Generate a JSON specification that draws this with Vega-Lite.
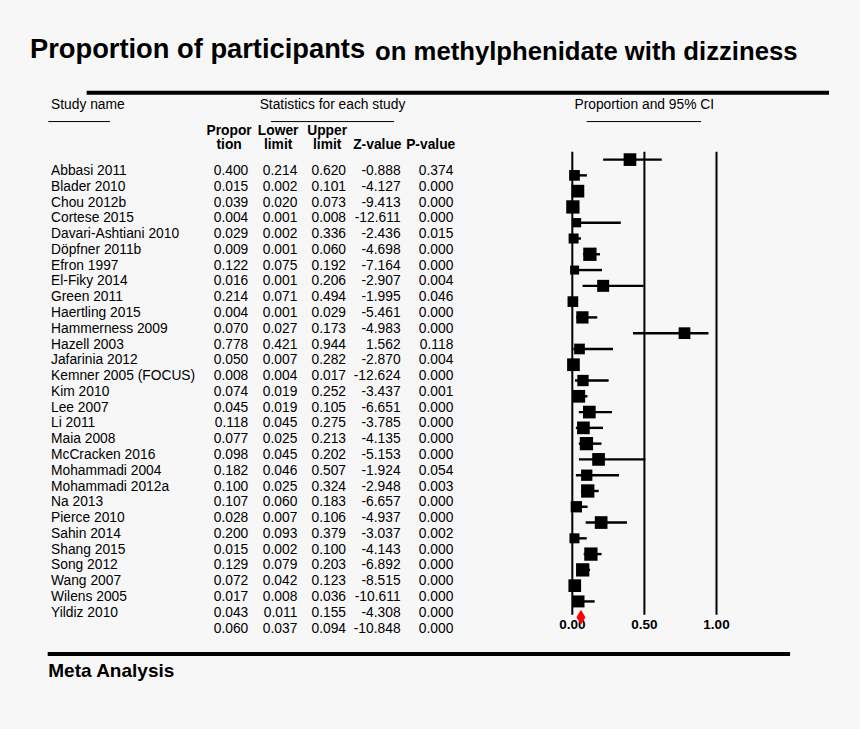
{
  "$schema": "https://vega.github.io/schema/vega-lite/v6.json",
  "width": 860,
  "height": 729,
  "autosize": {"type": "fit", "contains": "padding"},
  "padding": 0,
  "background": "#f7f7f7",
  "config": {
    "view": {"stroke": null},
    "text": {"font": "Liberation Sans", "color": "#000000"},
    "rule": {"color": "#000000"},
    "locale": {"number": {"decimal": ".", "thousands": ",", "grouping": [3], "currency": ["$", ""], "minus": "-"}}
  },
  "datasets": {
    "studies": [
      {"row": 0, "kind": "study", "study": "Abbasi 2011", "prop": 0.400, "lower": 0.214, "upper": 0.620, "z": -0.888, "p": 0.374, "weight": 3.85},
      {"row": 1, "kind": "study", "study": "Blader 2010", "prop": 0.015, "lower": 0.002, "upper": 0.101, "z": -4.127, "p": 0.000, "weight": 2.73},
      {"row": 2, "kind": "study", "study": "Chou 2012b", "prop": 0.039, "lower": 0.020, "upper": 0.073, "z": -9.413, "p": 0.000, "weight": 3.85},
      {"row": 3, "kind": "study", "study": "Cortese 2015", "prop": 0.004, "lower": 0.001, "upper": 0.008, "z": -12.611, "p": 0.000, "weight": 4.23},
      {"row": 4, "kind": "study", "study": "Davari-Ashtiani 2010", "prop": 0.029, "lower": 0.002, "upper": 0.336, "z": -2.436, "p": 0.015, "weight": 2.06},
      {"row": 5, "kind": "study", "study": "Döpfner 2011b", "prop": 0.009, "lower": 0.001, "upper": 0.060, "z": -4.698, "p": 0.000, "weight": 2.39},
      {"row": 6, "kind": "study", "study": "Efron 1997", "prop": 0.122, "lower": 0.075, "upper": 0.192, "z": -7.164, "p": 0.000, "weight": 4.23},
      {"row": 7, "kind": "study", "study": "El-Fiky 2014", "prop": 0.016, "lower": 0.001, "upper": 0.206, "z": -2.907, "p": 0.004, "weight": 1.94},
      {"row": 8, "kind": "study", "study": "Green 2011", "prop": 0.214, "lower": 0.071, "upper": 0.494, "z": -1.995, "p": 0.046, "weight": 3.44},
      {"row": 9, "kind": "study", "study": "Haertling 2015", "prop": 0.004, "lower": 0.001, "upper": 0.029, "z": -5.461, "p": 0.000, "weight": 2.73},
      {"row": 10, "kind": "study", "study": "Hammerness 2009", "prop": 0.070, "lower": 0.027, "upper": 0.173, "z": -4.983, "p": 0.000, "weight": 3.61},
      {"row": 11, "kind": "study", "study": "Hazell 2003", "prop": 0.778, "lower": 0.421, "upper": 0.944, "z": 1.562, "p": 0.118, "weight": 3.28},
      {"row": 12, "kind": "study", "study": "Jafarinia 2012", "prop": 0.050, "lower": 0.007, "upper": 0.282, "z": -2.870, "p": 0.004, "weight": 2.73},
      {"row": 13, "kind": "study", "study": "Kemner 2005 (FOCUS)", "prop": 0.008, "lower": 0.004, "upper": 0.017, "z": -12.624, "p": 0.000, "weight": 3.85},
      {"row": 14, "kind": "study", "study": "Kim 2010", "prop": 0.074, "lower": 0.019, "upper": 0.252, "z": -3.437, "p": 0.001, "weight": 3.06},
      {"row": 15, "kind": "study", "study": "Lee 2007", "prop": 0.045, "lower": 0.019, "upper": 0.105, "z": -6.651, "p": 0.000, "weight": 3.85},
      {"row": 16, "kind": "study", "study": "Li 2011", "prop": 0.118, "lower": 0.045, "upper": 0.275, "z": -3.785, "p": 0.000, "weight": 3.85},
      {"row": 17, "kind": "study", "study": "Maia 2008", "prop": 0.077, "lower": 0.025, "upper": 0.213, "z": -4.135, "p": 0.000, "weight": 3.85},
      {"row": 18, "kind": "study", "study": "McCracken 2016", "prop": 0.098, "lower": 0.045, "upper": 0.202, "z": -5.153, "p": 0.000, "weight": 4.23},
      {"row": 19, "kind": "study", "study": "Mohammadi 2004", "prop": 0.182, "lower": 0.046, "upper": 0.507, "z": -1.924, "p": 0.054, "weight": 3.85},
      {"row": 20, "kind": "study", "study": "Mohammadi 2012a", "prop": 0.100, "lower": 0.025, "upper": 0.324, "z": -2.948, "p": 0.003, "weight": 3.06},
      {"row": 21, "kind": "study", "study": "Na 2013", "prop": 0.107, "lower": 0.060, "upper": 0.183, "z": -6.657, "p": 0.000, "weight": 4.23},
      {"row": 22, "kind": "study", "study": "Pierce 2010", "prop": 0.028, "lower": 0.007, "upper": 0.106, "z": -4.937, "p": 0.000, "weight": 3.06},
      {"row": 23, "kind": "study", "study": "Sahin 2014", "prop": 0.200, "lower": 0.093, "upper": 0.379, "z": -3.037, "p": 0.002, "weight": 3.85},
      {"row": 24, "kind": "study", "study": "Shang 2015", "prop": 0.015, "lower": 0.002, "upper": 0.100, "z": -4.143, "p": 0.000, "weight": 2.39},
      {"row": 25, "kind": "study", "study": "Song 2012", "prop": 0.129, "lower": 0.079, "upper": 0.203, "z": -6.892, "p": 0.000, "weight": 4.23},
      {"row": 26, "kind": "study", "study": "Wang 2007", "prop": 0.072, "lower": 0.042, "upper": 0.123, "z": -8.515, "p": 0.000, "weight": 4.23},
      {"row": 27, "kind": "study", "study": "Wilens 2005", "prop": 0.017, "lower": 0.008, "upper": 0.036, "z": -10.611, "p": 0.000, "weight": 3.85},
      {"row": 28, "kind": "study", "study": "Yildiz 2010", "prop": 0.043, "lower": 0.011, "upper": 0.155, "z": -4.308, "p": 0.000, "weight": 3.44},
      {"row": 29, "kind": "summary", "study": "", "prop": 0.060, "lower": 0.037, "upper": 0.094, "z": -10.848, "p": 0.000, "weight": 0}
    ],
    "ticks": [
      {"tick": 0, "label": "0.00"},
      {"tick": 0.5, "label": "0.50"},
      {"tick": 1, "label": "1.00"}
    ]
  },
  "layer": [
    {
      "data": {"values": [{}]},
      "mark": {"type": "text", "text": "Proportion of participants", "align": "left", "baseline": "alphabetic", "fontSize": 27.3, "fontWeight": "bold"},
      "encoding": {
        "x": {"datum": -3.761, "type": "quantitative", "scale": {"domain": [-3.9688, 1.9951], "nice": false, "zero": false}, "axis": null},
        "y": {"datum": -6.42, "type": "quantitative", "scale": {"domain": [-10.114, 36.084], "reverse": true, "nice": false, "zero": false}, "axis": null}
      }
    },
    {
      "data": {"values": [{}]},
      "mark": {"type": "text", "text": "on methylphenidate with dizziness", "align": "left", "baseline": "alphabetic", "fontSize": 25.7, "fontWeight": "bold"},
      "encoding": {
        "x": {"datum": -1.368, "type": "quantitative", "axis": null},
        "y": {"datum": -6.31, "type": "quantitative", "axis": null}
      }
    },
    {
      "data": {"values": [{}]},
      "mark": {"type": "rule", "strokeWidth": 4},
      "encoding": {
        "x": {"datum": -3.368, "type": "quantitative", "axis": null},
        "x2": {"datum": 1.780},
        "y": {"datum": -4.23, "type": "quantitative", "axis": null}
      }
    },
    {
      "data": {"values": [{}]},
      "mark": {"type": "rule", "strokeWidth": 4},
      "encoding": {
        "x": {"datum": -3.638, "type": "quantitative", "axis": null},
        "x2": {"datum": 1.510},
        "y": {"datum": 31.33, "type": "quantitative", "axis": null}
      }
    },
    {
      "data": {"values": [{}]},
      "mark": {"type": "text", "text": "Study name", "align": "left", "baseline": "alphabetic", "fontSize": 13.8},
      "encoding": {
        "x": {"datum": -3.615, "type": "quantitative", "axis": null},
        "y": {"datum": -3.19, "type": "quantitative", "axis": null}
      }
    },
    {
      "data": {"values": [{}]},
      "mark": {"type": "text", "text": "Statistics for each study", "align": "center", "baseline": "alphabetic", "fontSize": 13.8},
      "encoding": {
        "x": {"datum": -1.663, "type": "quantitative", "axis": null},
        "y": {"datum": -3.19, "type": "quantitative", "axis": null}
      }
    },
    {
      "data": {"values": [{}]},
      "mark": {"type": "text", "text": "Proportion and 95% CI", "align": "center", "baseline": "alphabetic", "fontSize": 13.8},
      "encoding": {
        "x": {"datum": 0.499, "type": "quantitative", "axis": null},
        "y": {"datum": -3.19, "type": "quantitative", "axis": null}
      }
    },
    {
      "data": {"values": [{}]},
      "mark": {"type": "rule", "strokeWidth": 1},
      "encoding": {
        "x": {"datum": -3.634, "type": "quantitative", "axis": null},
        "x2": {"datum": -3.206},
        "y": {"datum": -2.41, "type": "quantitative", "axis": null}
      }
    },
    {
      "data": {"values": [{}]},
      "mark": {"type": "rule", "strokeWidth": 1},
      "encoding": {
        "x": {"datum": -2.089, "type": "quantitative", "axis": null},
        "x2": {"datum": -1.236},
        "y": {"datum": -2.41, "type": "quantitative", "axis": null}
      }
    },
    {
      "data": {"values": [{}]},
      "mark": {"type": "rule", "strokeWidth": 1},
      "encoding": {
        "x": {"datum": 0.100, "type": "quantitative", "axis": null},
        "x2": {"datum": 0.893},
        "y": {"datum": -2.41, "type": "quantitative", "axis": null}
      }
    },
    {
      "data": {"values": [{}]},
      "mark": {"type": "text", "text": ["Propor", "tion"], "lineHeight": 13.5, "align": "center", "baseline": "alphabetic", "fontSize": 13.8, "fontWeight": "bold"},
      "encoding": {
        "x": {"datum": -2.38, "type": "quantitative", "axis": null},
        "y": {"datum": -1.54, "type": "quantitative", "axis": null}
      }
    },
    {
      "data": {"values": [{}]},
      "mark": {"type": "text", "text": ["Lower", "limit"], "lineHeight": 13.5, "align": "center", "baseline": "alphabetic", "fontSize": 13.8, "fontWeight": "bold"},
      "encoding": {
        "x": {"datum": -2.04, "type": "quantitative", "axis": null},
        "y": {"datum": -1.54, "type": "quantitative", "axis": null}
      }
    },
    {
      "data": {"values": [{}]},
      "mark": {"type": "text", "text": ["Upper", "  limit"], "lineHeight": 13.5, "align": "center", "baseline": "alphabetic", "fontSize": 13.8, "fontWeight": "bold"},
      "encoding": {
        "x": {"datum": -1.70, "type": "quantitative", "axis": null},
        "y": {"datum": -1.54, "type": "quantitative", "axis": null}
      }
    },
    {
      "data": {"values": [{}]},
      "mark": {"type": "text", "text": "Z-value", "align": "center", "baseline": "alphabetic", "fontSize": 13.8, "fontWeight": "bold"},
      "encoding": {
        "x": {"datum": -1.352, "type": "quantitative", "axis": null},
        "y": {"datum": -0.70, "type": "quantitative", "axis": null}
      }
    },
    {
      "data": {"values": [{}]},
      "mark": {"type": "text", "text": "P-value", "align": "center", "baseline": "alphabetic", "fontSize": 13.8, "fontWeight": "bold"},
      "encoding": {
        "x": {"datum": -0.982, "type": "quantitative", "axis": null},
        "y": {"datum": -0.70, "type": "quantitative", "axis": null}
      }
    },
    {
      "data": {"name": "studies"},
      "mark": {"type": "text", "align": "left", "baseline": "alphabetic", "dy": 15.4, "fontSize": 13.8},
      "encoding": {
        "x": {"datum": -3.615, "type": "quantitative", "axis": null},
        "y": {"field": "row", "type": "quantitative", "axis": null},
        "text": {"field": "study", "type": "nominal"}
      }
    },
    {
      "data": {"name": "studies"},
      "mark": {"type": "text", "align": "right", "baseline": "alphabetic", "dy": 15.4, "fontSize": 13.8},
      "encoding": {
        "x": {"datum": -2.247, "type": "quantitative", "axis": null},
        "y": {"field": "row", "type": "quantitative", "axis": null},
        "text": {"field": "prop", "type": "quantitative", "format": ".3f"}
      }
    },
    {
      "data": {"name": "studies"},
      "mark": {"type": "text", "align": "right", "baseline": "alphabetic", "dy": 15.4, "fontSize": 13.8},
      "encoding": {
        "x": {"datum": -1.907, "type": "quantitative", "axis": null},
        "y": {"field": "row", "type": "quantitative", "axis": null},
        "text": {"field": "lower", "type": "quantitative", "format": ".3f"}
      }
    },
    {
      "data": {"name": "studies"},
      "mark": {"type": "text", "align": "right", "baseline": "alphabetic", "dy": 15.4, "fontSize": 13.8},
      "encoding": {
        "x": {"datum": -1.569, "type": "quantitative", "axis": null},
        "y": {"field": "row", "type": "quantitative", "axis": null},
        "text": {"field": "upper", "type": "quantitative", "format": ".3f"}
      }
    },
    {
      "data": {"name": "studies"},
      "mark": {"type": "text", "align": "right", "baseline": "alphabetic", "dy": 15.4, "fontSize": 13.8},
      "encoding": {
        "x": {"datum": -1.191, "type": "quantitative", "axis": null},
        "y": {"field": "row", "type": "quantitative", "axis": null},
        "text": {"field": "z", "type": "quantitative", "format": ".3f"}
      }
    },
    {
      "data": {"name": "studies"},
      "mark": {"type": "text", "align": "right", "baseline": "alphabetic", "dy": 15.4, "fontSize": 13.8},
      "encoding": {
        "x": {"datum": -0.825, "type": "quantitative", "axis": null},
        "y": {"field": "row", "type": "quantitative", "axis": null},
        "text": {"field": "p", "type": "quantitative", "format": ".3f"}
      }
    },
    {
      "data": {"name": "ticks"},
      "mark": {"type": "rule", "strokeWidth": 2},
      "encoding": {
        "x": {"field": "tick", "type": "quantitative", "axis": null},
        "y": {"datum": -0.5, "type": "quantitative", "axis": null},
        "y2": {"datum": 28.85}
      }
    },
    {
      "data": {"name": "studies"},
      "transform": [{"filter": "datum.kind === 'study'"}],
      "mark": {"type": "rule", "strokeWidth": 2.4},
      "encoding": {
        "x": {"field": "lower", "type": "quantitative", "axis": null},
        "x2": {"field": "upper"},
        "y": {"field": "row", "type": "quantitative", "axis": null}
      }
    },
    {
      "data": {"name": "studies"},
      "transform": [{"filter": "datum.kind === 'study'"}],
      "mark": {"type": "point", "shape": "square", "filled": true, "color": "#000000", "opacity": 1},
      "encoding": {
        "x": {"field": "prop", "type": "quantitative", "axis": null},
        "y": {"field": "row", "type": "quantitative", "axis": null},
        "size": {"field": "weight", "type": "quantitative", "scale": {"type": "linear", "domain": [0, 5], "range": [0, 209], "zero": true}, "legend": null}
      }
    },
    {
      "data": {"name": "ticks"},
      "mark": {"type": "text", "align": "center", "baseline": "alphabetic", "fontSize": 13.5, "fontWeight": "bold"},
      "encoding": {
        "x": {"field": "tick", "type": "quantitative", "axis": null},
        "y": {"datum": 29.77, "type": "quantitative", "axis": null},
        "text": {"field": "label", "type": "nominal"}
      }
    },
    {
      "data": {"name": "studies"},
      "transform": [{"filter": "datum.kind === 'summary'"}],
      "mark": {"type": "point", "shape": "M-0.6,0L0,-1L0.6,0L0,1Z", "filled": true, "color": "#ff0000", "opacity": 1, "size": 225},
      "encoding": {
        "x": {"field": "prop", "type": "quantitative", "axis": null},
        "y": {"field": "row", "type": "quantitative", "axis": null}
      }
    },
    {
      "data": {"values": [{}]},
      "mark": {"type": "text", "text": "Meta Analysis", "align": "left", "baseline": "alphabetic", "fontSize": 19, "fontWeight": "bold"},
      "encoding": {
        "x": {"datum": -3.634, "type": "quantitative", "axis": null},
        "y": {"datum": 32.77, "type": "quantitative", "axis": null}
      }
    }
  ]
}
